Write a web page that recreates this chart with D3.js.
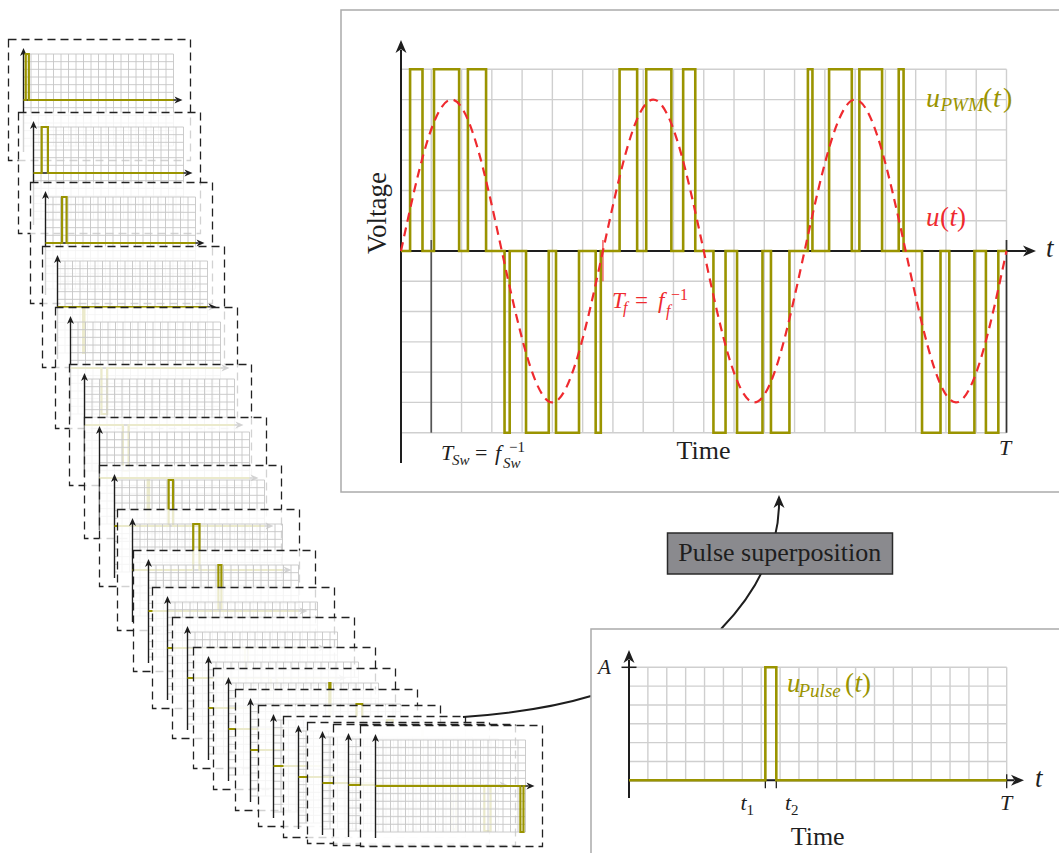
<!DOCTYPE html>
<html>
<head>
<meta charset="utf-8">
<script src="https://cdn.jsdelivr.net/npm/d3@7"></script>
<style>
  html, body { margin: 0; padding: 0; background: #fff; }
  svg { display: block; }
</style>
</head>
<body>
<svg id="chart" width="1059" height="853"></svg>
<script>
// ========= Data =========
const T_CELLS = 20;      // switching periods inside the window T
const PWM_LEVEL = 6;     // pulse height in grid units

// one pulse per switching period (time in grid cells, 0..20)
const pulseStart = [0.30, 1.09, 2.21, 3.42, 4.13, 5.12, 6.43, 7.22, 8.10, 9.32,
                    10.32, 11.10, 12.22, 13.44, 14.14, 15.14, 16.44, 17.21, 18.11, 19.32];
const pulseEnd   = [0.71, 1.92, 2.81, 3.59, 4.88, 5.88, 6.60, 7.80, 8.93, 9.72,
                    10.72, 11.94, 12.83, 13.59, 14.89, 15.89, 16.60, 17.82, 18.94, 19.73];
const pulseSign  = [1, 1, 1, -1, -1, -1, -1, 1, 1, 1, -1, -1, -1, 1, 1, 1, 1, -1, -1, -1];

// reference voltage u(t)
const refTime = [0, 0.83, 1.67, 2.5, 3.33, 4.17, 5, 5.83, 6.67, 7.5, 8.33, 9.17, 10,
                 10.83, 11.67, 12.5, 13.33, 14.17, 15, 15.83, 16.67, 17.5, 18.33, 19.17, 20];
const refVolt = [0, 3.5, 5, 3.5, 0, -3.5, -5, -3.5, 0, 3.5, 5, 3.5, 0,
                 -3.5, -5, -3.5, 0, 3.5, 5, 3.5, 0, -3.5, -5, -3.5, 0];

const SINGLE = 7;        // pulse shown in the lower-right panel (t1..t2)

// ========= Layout =========
// top-left corners of the 20 stacked pulse frames (one per switching period)
const stackPos = [
  [8, 39], [18, 112], [30, 182], [42, 246], [55, 307], [69, 364], [84, 417],
  [99, 465], [117, 509], [133, 550], [152, 587], [172, 617], [193, 647],
  [213, 668], [235, 689], [258, 705], [283, 716], [307, 722], [333, 724], [360, 725]
];

const OLIVE = "#9a9400";
const RED = "#ef2a2f";
const GRID = "#cfcfcf";
const INK = "#1e1e1e";
const SERIF = "'Liberation Serif', 'Times New Roman', serif";

const svg = d3.select("#chart");

// ========= Helpers =========
function arrowHead(g, x, y, angle, len, half, color) {
  g.append("path")
    .attr("d", `M0,0 L${-len},${-half} L${-len * 0.72},0 L${-len},${half} Z`)
    .attr("transform", `translate(${x},${y}) rotate(${angle})`)
    .attr("fill", color);
}

function txt(g, x, y, s, size, opts = {}) {
  return g.append("text")
    .attr("x", x)
    .attr("y", y)
    .attr("font-family", SERIF)
    .attr("font-size", size)
    .attr("font-style", opts.italic ? "italic" : "normal")
    .attr("text-anchor", opts.anchor || "start")
    .attr("fill", opts.color || INK)
    .text(s);
}

function pulsePoints(k) {
  const a = pulseSign[k] * PWM_LEVEL;
  return [[0, 0], [pulseStart[k], 0], [pulseStart[k], a], [pulseEnd[k], a], [pulseEnd[k], 0], [T_CELLS, 0]];
}

function pwmPoints() {
  const pts = [[0, 0]];
  pulseStart.forEach((s, k) => {
    const a = pulseSign[k] * PWM_LEVEL;
    pts.push([s, 0], [s, a], [pulseEnd[k], a], [pulseEnd[k], 0]);
  });
  pts.push([T_CELLS, 0]);
  return pts;
}

// ========= Stack of single pulses =========
function drawFrame(layer, pos, k) {
  const [fx0, fy0] = pos;
  const g = layer.append("g");
  g.append("rect")
    .attr("x", fx0 + 0.5).attr("y", fy0 + 0.5)
    .attr("width", 182).attr("height", 121)
    .attr("fill", "#fff").attr("fill-opacity", 0.8)
    .attr("stroke", "#222").attr("stroke-width", 1.3)
    .attr("stroke-dasharray", "8,5");

  const ax = fx0 + 15.5, ay = fy0 + 61;
  const x = d3.scaleLinear().domain([0, T_CELLS]).range([ax, ax + 150]);
  const y = d3.scaleLinear().domain([-PWM_LEVEL, PWM_LEVEL]).range([ay + 46, ay - 46]);

  g.append("g").selectAll("line.v")
    .data(d3.range(0, T_CELLS + 1))
    .join("line")
    .attr("x1", d => x(d)).attr("x2", d => x(d))
    .attr("y1", y(-PWM_LEVEL)).attr("y2", y(PWM_LEVEL))
    .attr("stroke", "#c6c6c6").attr("stroke-width", 0.9);
  g.append("g").selectAll("line.h")
    .data(d3.range(-PWM_LEVEL, PWM_LEVEL + 1))
    .join("line")
    .attr("x1", x(0)).attr("x2", x(T_CELLS))
    .attr("y1", d => y(d)).attr("y2", d => y(d))
    .attr("stroke", "#c6c6c6").attr("stroke-width", 0.9);

  // axes
  g.append("line")
    .attr("x1", ax).attr("x2", ax)
    .attr("y1", ay + 52).attr("y2", fy0 + 14)
    .attr("stroke", INK).attr("stroke-width", 1.4);
  arrowHead(g, ax, fy0 + 9, -90, 8, 3.5, INK);
  g.append("line")
    .attr("x1", ax).attr("x2", ax + 153)
    .attr("y1", ay).attr("y2", ay)
    .attr("stroke", INK).attr("stroke-width", 1.4);
  arrowHead(g, ax + 159, ay, 0, 8, 3.5, INK);

  g.append("path")
    .attr("d", d3.line().x(d => x(d[0])).y(d => y(d[1]))(pulsePoints(k)))
    .attr("fill", "none")
    .attr("stroke", OLIVE).attr("stroke-width", 2.2);
}

const stackLayer = svg.append("g");
stackPos.forEach((p, k) => drawFrame(stackLayer, p, k));

// ========= Connectors =========
svg.append("path")
  .attr("d", "M463,717 C505,714 555,707 591,696")
  .attr("fill", "none").attr("stroke", INK).attr("stroke-width", 2);

svg.append("path")
  .attr("d", "M721,629 C757,592 779,548 779,503")
  .attr("fill", "none").attr("stroke", INK).attr("stroke-width", 2);
arrowHead(svg, 779, 495, -90, 13, 5.5, INK);

svg.append("rect")
  .attr("x", 667.5).attr("y", 533)
  .attr("width", 225).attr("height", 41)
  .attr("fill", "#8a8a8e").attr("stroke", "#2a2a2a").attr("stroke-width", 1.5);
txt(svg, 779.7, 561, "Pulse superposition", 26, { anchor: "middle" });

// ========= Main panel: PWM voltage =========
function renderMain() {
  const g = svg.append("g");
  g.append("rect")
    .attr("x", 341).attr("y", 10)
    .attr("width", 740).attr("height", 482)
    .attr("fill", "#fff").attr("stroke", "#ababab").attr("stroke-width", 1.5);

  const x = d3.scaleLinear().domain([0, T_CELLS]).range([401, 1006.5]);
  const y = d3.scaleLinear().domain([-PWM_LEVEL, PWM_LEVEL]).range([432.7, 69.3]);

  g.append("g").selectAll("line")
    .data(d3.range(0, T_CELLS + 1))
    .join("line")
    .attr("x1", d => x(d)).attr("x2", d => x(d))
    .attr("y1", y(-PWM_LEVEL)).attr("y2", y(PWM_LEVEL))
    .attr("stroke", GRID).attr("stroke-width", 1.4);
  g.append("g").selectAll("line")
    .data(d3.range(-PWM_LEVEL, PWM_LEVEL + 1))
    .join("line")
    .attr("x1", x(0)).attr("x2", x(T_CELLS))
    .attr("y1", d => y(d)).attr("y2", d => y(d))
    .attr("stroke", GRID).attr("stroke-width", 1.4);

  // period markers
  g.append("line")
    .attr("x1", x(1)).attr("x2", x(1))
    .attr("y1", y(0) - 11).attr("y2", y(-PWM_LEVEL))
    .attr("stroke", "#555").attr("stroke-width", 1.7);
  g.append("line")
    .attr("x1", x(T_CELLS)).attr("x2", x(T_CELLS))
    .attr("y1", y(0) - 11).attr("y2", y(-PWM_LEVEL))
    .attr("stroke", "#333").attr("stroke-width", 1.7);
  g.append("line")
    .attr("x1", x(refTime[8])).attr("x2", x(refTime[8]))
    .attr("y1", y(0) - 11).attr("y2", y(-1))
    .attr("stroke", RED).attr("stroke-width", 1.1);

  // axes
  g.append("line")
    .attr("x1", x(0)).attr("x2", x(0))
    .attr("y1", 463).attr("y2", 50)
    .attr("stroke", INK).attr("stroke-width", 2);
  arrowHead(g, x(0), 40, -90, 13, 5.5, INK);
  g.append("line")
    .attr("x1", x(0)).attr("x2", 1026)
    .attr("y1", y(0)).attr("y2", y(0))
    .attr("stroke", INK).attr("stroke-width", 2);
  arrowHead(g, 1036, y(0), 0, 13, 5.5, INK);

  // PWM signal
  g.append("path")
    .attr("d", d3.line().x(d => x(d[0])).y(d => y(d[1]))(pwmPoints()))
    .attr("fill", "none")
    .attr("stroke", OLIVE).attr("stroke-width", 2.6)
    .attr("stroke-linejoin", "miter");

  // reference u(t)
  g.append("path")
    .datum(refTime.map((t, i) => [t, refVolt[i]]))
    .attr("d", d3.line().curve(d3.curveNatural).x(d => x(d[0])).y(d => y(d[1])))
    .attr("fill", "none")
    .attr("stroke", RED).attr("stroke-width", 2.2)
    .attr("stroke-dasharray", "9,6");

  // labels
  txt(g, 926, 107, "u", 28, { italic: true, color: OLIVE });
  txt(g, 940.5, 111, "PWM", 19, { italic: true, color: OLIVE });
  txt(g, 983, 107, "(", 28, { color: OLIVE });
  txt(g, 993, 107, "t", 28, { italic: true, color: OLIVE });
  txt(g, 1003, 107, ")", 28, { color: OLIVE });

  txt(g, 926, 226, "u", 27, { italic: true, color: RED });
  txt(g, 940, 226, "(", 27, { color: RED });
  txt(g, 949.5, 226, "t", 27, { italic: true, color: RED });
  txt(g, 957, 226, ")", 27, { color: RED });

  txt(g, 1046, 257, "t", 27, { italic: true });
  txt(g, 999, 455, "T", 22, { italic: true });
  txt(g, 703.5, 459, "Time", 26, { anchor: "middle" });

  g.append("text")
    .attr("transform", "translate(386,213) rotate(-90)")
    .attr("text-anchor", "middle")
    .attr("font-family", SERIF).attr("font-size", 27)
    .attr("fill", INK)
    .text("Voltage");

  // T_Sw = f_Sw^-1
  txt(g, 441, 460, "T", 22, { italic: true });
  txt(g, 452, 465, "Sw", 15, { italic: true });
  txt(g, 475, 460, "=", 22);
  txt(g, 495, 460, "f", 22, { italic: true });
  txt(g, 503, 468, "Sw", 15, { italic: true });
  txt(g, 509, 452, "\u22121", 15);

  // T_f = f_f^-1
  txt(g, 612, 308, "T", 23, { italic: true, color: RED });
  txt(g, 623, 313, "f", 16, { italic: true, color: RED });
  txt(g, 635, 308, "=", 23, { color: RED });
  txt(g, 658, 308, "f", 23, { italic: true, color: RED });
  txt(g, 666, 316, "f", 16, { italic: true, color: RED });
  txt(g, 671, 300, "\u22121", 16, { color: RED });
}

// ========= Lower-right panel: a single pulse =========
function renderPulse() {
  const g = svg.append("g");
  g.append("rect")
    .attr("x", 591).attr("y", 629)
    .attr("width", 500).attr("height", 260)
    .attr("fill", "#fff").attr("stroke", "#ababab").attr("stroke-width", 1.5);

  const x = d3.scaleLinear().domain([0, T_CELLS]).range([629, 1006.7]);
  const y = d3.scaleLinear().domain([0, PWM_LEVEL]).range([780.3, 667.3]);

  g.append("g").selectAll("line")
    .data(d3.range(0, T_CELLS + 1))
    .join("line")
    .attr("x1", d => x(d)).attr("x2", d => x(d))
    .attr("y1", y(0)).attr("y2", y(PWM_LEVEL))
    .attr("stroke", GRID).attr("stroke-width", 1.4);
  g.append("g").selectAll("line")
    .data(d3.range(0, PWM_LEVEL + 1))
    .join("line")
    .attr("x1", x(0)).attr("x2", x(T_CELLS))
    .attr("y1", d => y(d)).attr("y2", d => y(d))
    .attr("stroke", GRID).attr("stroke-width", 1.4);

  // axes
  g.append("line")
    .attr("x1", x(0)).attr("x2", x(0))
    .attr("y1", 798).attr("y2", 660)
    .attr("stroke", INK).attr("stroke-width", 2);
  arrowHead(g, x(0), 650, -90, 13, 5.5, INK);
  g.append("line")
    .attr("x1", x(0)).attr("x2", 1014)
    .attr("y1", y(0)).attr("y2", y(0))
    .attr("stroke", INK).attr("stroke-width", 2);
  arrowHead(g, 1024, y(0), 0, 13, 5.5, INK);

  // ticks: A, t1, t2, T
  g.append("line")
    .attr("x1", 621.5).attr("x2", 636.5)
    .attr("y1", y(PWM_LEVEL)).attr("y2", y(PWM_LEVEL))
    .attr("stroke", INK).attr("stroke-width", 1.5);
  [pulseStart[SINGLE], pulseEnd[SINGLE], T_CELLS].forEach(t => {
    g.append("line")
      .attr("x1", x(t)).attr("x2", x(t))
      .attr("y1", y(0) - 6).attr("y2", y(0) + 8)
      .attr("stroke", INK).attr("stroke-width", 1.3);
  });

  const p = pulsePoints(SINGLE).map(d => [d[0], Math.abs(d[1])]);
  g.append("path")
    .attr("d", d3.line().x(d => x(d[0])).y(d => y(d[1]))(p))
    .attr("fill", "none")
    .attr("stroke", OLIVE).attr("stroke-width", 2.6);

  txt(g, 598, 674, "A", 21, { italic: true });
  txt(g, 787, 692, "u", 27, { italic: true, color: OLIVE });
  txt(g, 798.5, 697, "Pulse", 19, { italic: true, color: OLIVE });
  txt(g, 845, 692, "(", 27, { color: OLIVE });
  txt(g, 854.5, 692, "t", 27, { italic: true, color: OLIVE });
  txt(g, 862, 692, ")", 27, { color: OLIVE });

  txt(g, 740.5, 810, "t", 22, { italic: true });
  txt(g, 746.5, 815, "1", 15);
  txt(g, 785, 810, "t", 22, { italic: true });
  txt(g, 791, 815, "2", 15);
  txt(g, 1000, 810, "T", 22, { italic: true });
  txt(g, 1035, 787, "t", 27, { italic: true });
  txt(g, 817.7, 845, "Time", 26, { anchor: "middle" });
}

renderMain();
renderPulse();
</script>
</body>
</html>
